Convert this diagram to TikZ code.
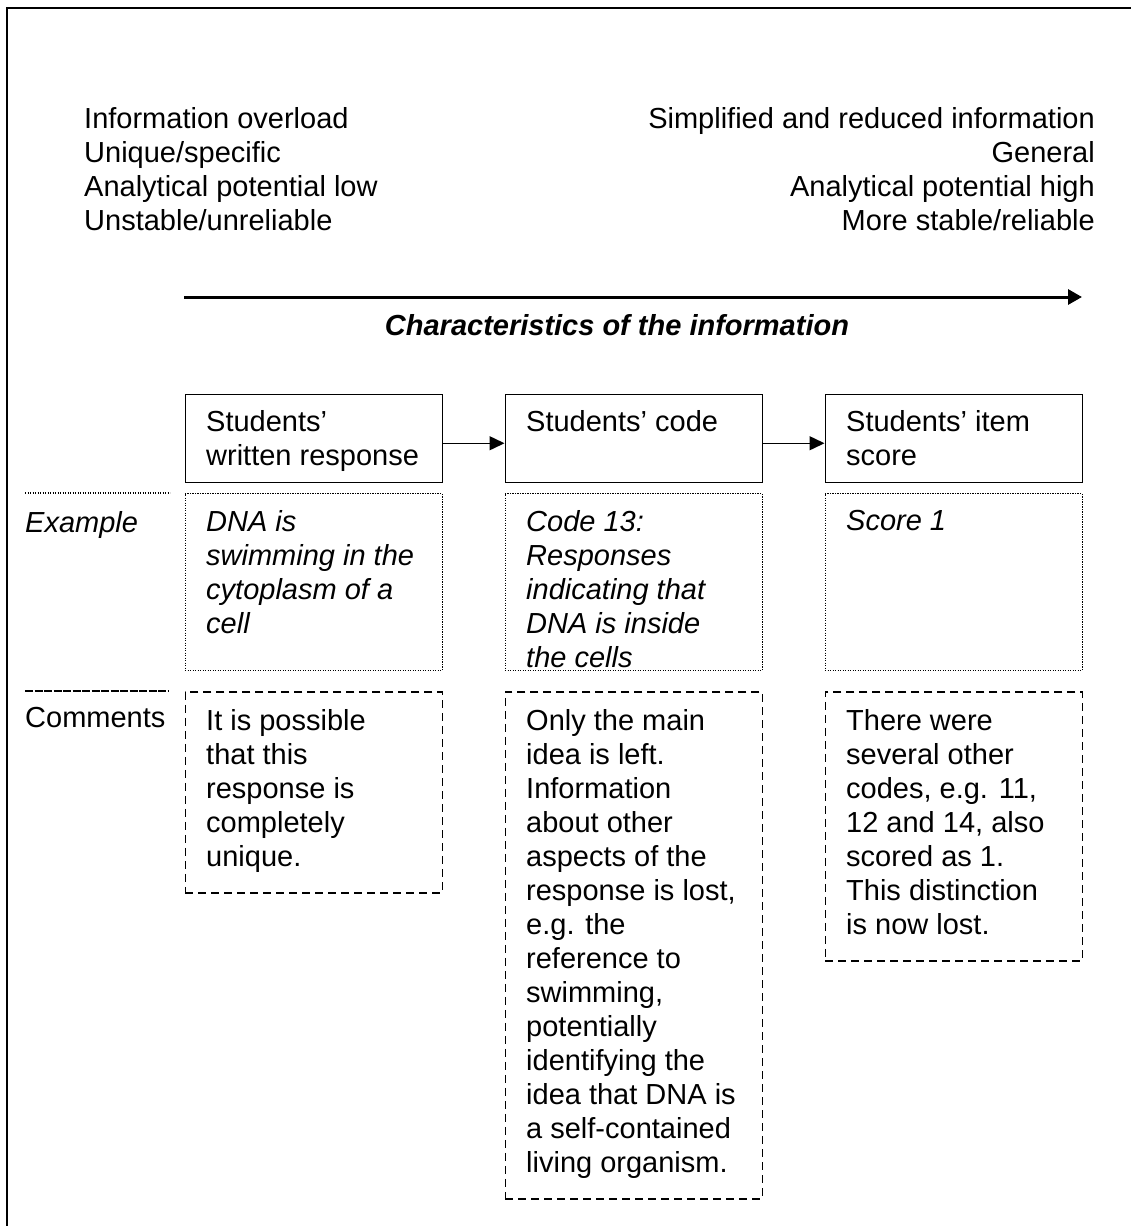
\documentclass[tikz,border=0pt]{standalone}
\usepackage{fontspec}
\setmainfont{Liberation Sans}
\usetikzlibrary{arrows.meta,positioning}

\newcommand{\bodysize}{\fontsize{29}{34}\selectfont}

\begin{document}
\begin{tikzpicture}[x=1pt,y=-1pt,
  txt/.style={inner sep=0pt, anchor=north west, align=left, font=\bodysize},
  solidbox/.style={draw, line width=1.5pt, anchor=north west, minimum width=257, inner sep=0pt},
  dotbox/.style={draw, line width=1.2pt, dash pattern=on 1.2pt off 1.3pt, anchor=north west, minimum width=257, inner sep=0pt},
  dashbox/.style={draw, line width=1.5pt, dash pattern=on 8pt off 5pt, anchor=north west, minimum width=257, inner sep=0pt},
  link/.style={line width=1.5pt, -{Triangle[length=15pt,width=14pt]}},
  axis/.style={line width=3pt, -{Triangle[length=14pt,width=15pt]}}]
  \useasboundingbox (0,0) rectangle (1131,1226);
  % frame, cut at the right and bottom
  \draw[line width=2pt] (7,1226) -- (7,8) -- (1131,8);

  % characteristics
  \node[txt] (lowinfo) at (84,107.5) {Information overload\\Unique/specific\\Analytical potential low\\Unstable/unreliable};
  \node[txt, anchor=north east, align=right] (highinfo) at (1095,107.5) {Simplified and reduced information\\General\\Analytical potential high\\More stable/reliable};
  \coordinate (axl) at (184,297);
  \coordinate (axr) at (1082,297);
  \draw[axis] (axl) -- (axr);
  \node[txt, anchor=north, font=\bodysize\bfseries\itshape] (charlbl) at (617,314.5) {Characteristics of the information};

  % stages
  \node[solidbox, minimum height=88] (resp) at (184.5,393.5) {};
  \node[solidbox, minimum height=88] (code) at (504.5,393.5) {};
  \node[solidbox, minimum height=88] (score) at (824.5,393.5) {};
  \node[txt] at ([shift={(21.5,16.5)}]resp.north west) {Students’\\written response};
  \node[txt] at ([shift={(21.5,16.5)}]code.north west) {Students’ code};
  \node[txt] at ([shift={(21.5,16.5)}]score.north west) {Students’ item\\score};
  \draw[link] ([yshift=-5pt]resp.east) -- ([yshift=-5pt]code.west);
  \draw[link] ([yshift=-5pt]code.east) -- ([yshift=-5pt]score.west);

  % example row
  \coordinate (exl) at (25,493);
  \coordinate (exr) at (170,493);
  \draw[line width=1.2pt, dash pattern=on 1.2pt off 1.3pt] (exl) -- (exr);
  \node[txt, font=\bodysize\itshape] (exlbl) at (25,511) {Example};
  \node[dotbox, minimum height=177] (exresp) at (184.5,493) {};
  \node[dotbox, minimum height=177] (excode) at (504.5,493) {};
  \node[dotbox, minimum height=177] (exscore) at (824.5,493) {};
  \node[txt, font=\bodysize\itshape] at ([shift={(21.5,17)}]exresp.north west) {DNA is\\swimming in the\\cytoplasm of a\\cell};
  \node[txt, font=\bodysize\itshape] at ([shift={(21.5,17)}]excode.north west) {Code 13:\\Responses\\indicating that\\DNA is inside\\the cells};
  \node[txt, font=\bodysize\itshape] at ([shift={(21.5,17)}]exscore.north west) {Score 1};

  % comments row
  \coordinate (cml) at (25,691);
  \coordinate (cmr) at (168,691);
  \draw[line width=1.5pt, dash pattern=on 8pt off 1.5pt] (cml) -- (cmr);
  \node[txt] (cmlbl) at (25,707) {Comments};
  \node[dashbox, minimum height=201] (cmresp) at (184.5,691) {};
  \node[dashbox, minimum height=507] (cmcode) at (504.5,691) {};
  \node[dashbox, minimum height=269] (cmscore) at (824.5,691) {};
  \node[txt] at ([shift={(21.5,18)}]cmresp.north west) {It is possible\\that this\\response is\\completely\\unique.};
  \node[txt] at ([shift={(21.5,18)}]cmcode.north west) {Only the main\\idea is left.\\Information\\about other\\aspects of the\\response is lost,\\e.g. the\\reference to\\swimming,\\potentially\\identifying the\\idea that DNA is\\a self-contained\\living organism.};
  \node[txt] at ([shift={(21.5,18)}]cmscore.north west) {There were\\several other\\codes, e.g. 11,\\12 and 14, also\\scored as 1.\\This distinction\\is now lost.};
\end{tikzpicture}
\end{document}
